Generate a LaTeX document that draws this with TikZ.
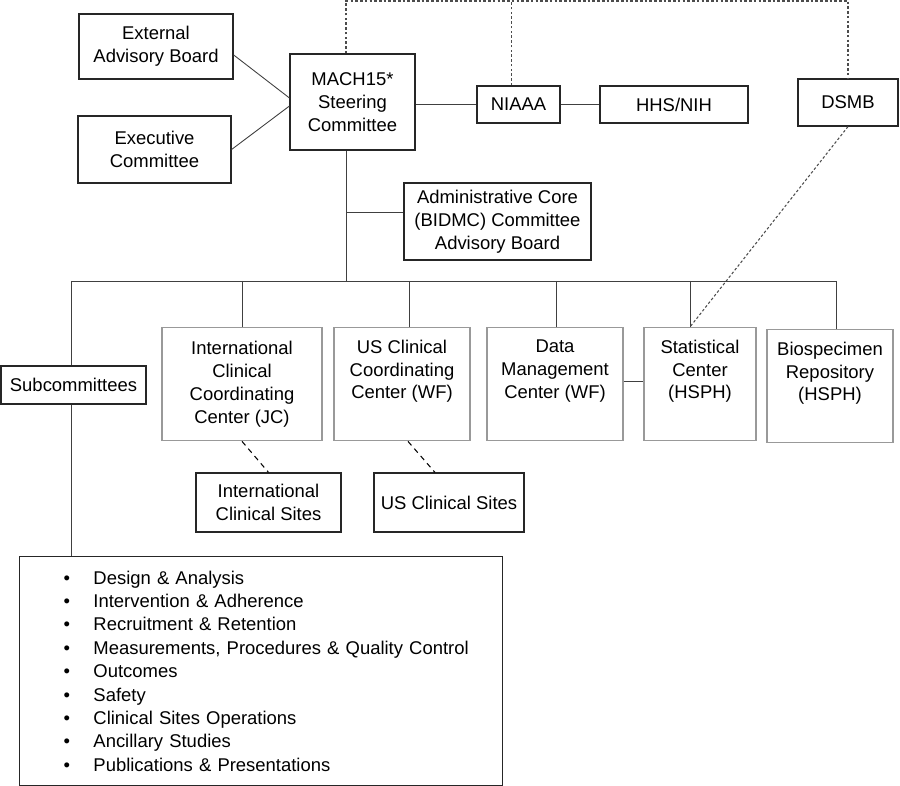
\documentclass[tikz,border=0pt]{standalone}
\usepackage{fontspec}
\setmainfont{Liberation Sans}

\tikzset{
		orgbox/.style={draw=black!85, line width=0.7pt, align=center, inner sep=2pt},
		ctrbox/.style={draw=black!40, line width=0.8pt, align=center, anchor=north, inner sep=2pt, minimum height=2.26cm},
		conn/.style={black!75, line width=0.5pt},
		link/.style={black!70, line width=0.6pt, dash pattern=on 1.5pt off 1.2pt},
		sitelink/.style={black, line width=0.6pt, dash pattern=on 3pt off 2.5pt}
	}

\newcommand{\listdot}{\makebox[17pt][l]{\textbullet}}

\begin{document}
\begin{tikzpicture}[x=0.02cm, y=-0.02cm, font=\fontsize{10.5}{13}\selectfont]
	
	\useasboundingbox (0,0) rectangle (900,786);
	
	% top row
	\node (ext) at (156,46.5) [orgbox, minimum width=3.08cm, minimum height=1.3cm] {External\\Advisory Board};
	\node (exec) at (154.5,149.5) [orgbox, minimum width=3.06cm, minimum height=1.34cm] {Executive\\Committee};
	\node (mach) at (352.5,102) [orgbox, minimum width=2.5cm, minimum height=1.92cm] {MACH15*\\Steering\\Committee};
	\node (niaaa) at (518.5,104.5) [orgbox, minimum width=1.66cm, minimum height=0.74cm] {NIAAA};
	\node (hhs) at (674,104.5) [orgbox, minimum width=2.96cm, minimum height=0.74cm] {HHS/NIH};
	\node (dsmb) at (848,102.5) [orgbox, minimum width=2.0cm, minimum height=0.94cm] {DSMB};
	\node (admin) at (497.5,221.5) [orgbox, minimum width=3.74cm, minimum height=1.54cm] {Administrative Core\\(BIDMC) Committee\\Advisory Board};
	
	\coordinate (top) at (346,1);
	\coordinate (trunk) at (346,281);
	\coordinate (busL) at (71,281);
	\coordinate (busR) at (836,281);
	
	\draw[conn] ([yshift=-4.8pt]ext.east) -- ([yshift=2.3pt]mach.west);
	\draw[conn] (exec.east) -- ([yshift=-2.3pt]mach.west);
	\draw[conn] (mach.east |- niaaa.west) -- (niaaa.west);
	\draw[conn] (niaaa.east) -- (hhs.west);
	
	\draw[link] (mach.north -| top) -- (top) -- (top -| dsmb.north) -- (dsmb.north);
	\draw[link] ([xshift=-4.2pt]niaaa.north) -- ([xshift=-4.2pt]niaaa.north |- top);
	
	\draw[conn] (mach.south -| trunk) -- (trunk);
	\draw[conn] ([yshift=5pt]admin.west -| trunk) -- ([yshift=5pt]admin.west);
	\draw[conn] (busL) -- (busR);
	
	% centers
	\node (subc) at (73.5,385) [orgbox, minimum width=2.9cm, minimum height=0.76cm] {Subcommittees};
	\node (iccc) at (242,327) [ctrbox, minimum width=3.2cm] {International\\Clinical\\Coordinating\\Center (JC)};
	\node (uscc) at (402,327) [ctrbox, minimum width=2.72cm] {US Clinical\\Coordinating\\Center (WF)\\\strut};
	\node (dmc) at (555,327) [ctrbox, minimum width=2.72cm] {Data\\Management\\Center (WF)\\\strut};
	\node (stat) at (700,327) [ctrbox, minimum width=2.24cm] {Statistical\\Center\\(HSPH)\\\strut};
	\node (bio) at (830,329) [ctrbox, minimum width=2.52cm] {Biospecimen\\Repository\\(HSPH)\\\strut};
	
	\draw[conn] (busL) -- (busL |- subc.north);
	\draw[conn] (iccc.north |- busL) -- (iccc.north);
	\draw[conn] ([xshift=4.5pt]uscc.north |- busL) -- ([xshift=4.5pt]uscc.north);
	\draw[conn] ([xshift=1.1pt]dmc.north |- busL) -- ([xshift=1.1pt]dmc.north);
	\draw[conn] ([xshift=-5.7pt]stat.north |- busL) -- ([xshift=-5.7pt]stat.north);
	\draw[conn] (busR) -- (busR |- bio.north);
	\draw[conn] (dmc.east |- 0,381) -- (stat.west |- 0,381);
	
	\draw[link] (dsmb.south) -- ([xshift=-5.7pt]stat.north);
	
	% sites
	\node (isites) at (268.5,502.5) [orgbox, minimum width=2.9cm, minimum height=1.18cm] {International\\Clinical Sites};
	\node (ussites) at (449,502.5) [orgbox, minimum width=3.0cm, minimum height=1.18cm] {US Clinical Sites};
	
	\draw[sitelink] (iccc.south) -- (isites.north);
	\draw[sitelink] ([xshift=3.4pt]uscc.south) -- ([xshift=-8pt]ussites.north);
	
	% subcommittee list
	\node (list) at (19,556) [orgbox, anchor=north west, align=left, text width=7.9cm, inner xsep=0.88cm, minimum height=4.58cm, font=\fontsize{10.5}{13.3}\selectfont] {%
		\listdot Design \& Analysis\\
		\listdot Intervention \& Adherence\\
		\listdot Recruitment \& Retention\\
		\mbox{\listdot Measurements, Procedures \& Quality Control}\\
		\listdot Outcomes\\
		\listdot Safety\\
		\listdot Clinical Sites Operations\\
		\listdot Ancillary Studies\\
		\listdot Publications \& Presentations};
	
	\draw[conn] (subc.south -| busL) -- (busL |- list.north);
	
\end{tikzpicture}
\end{document}
